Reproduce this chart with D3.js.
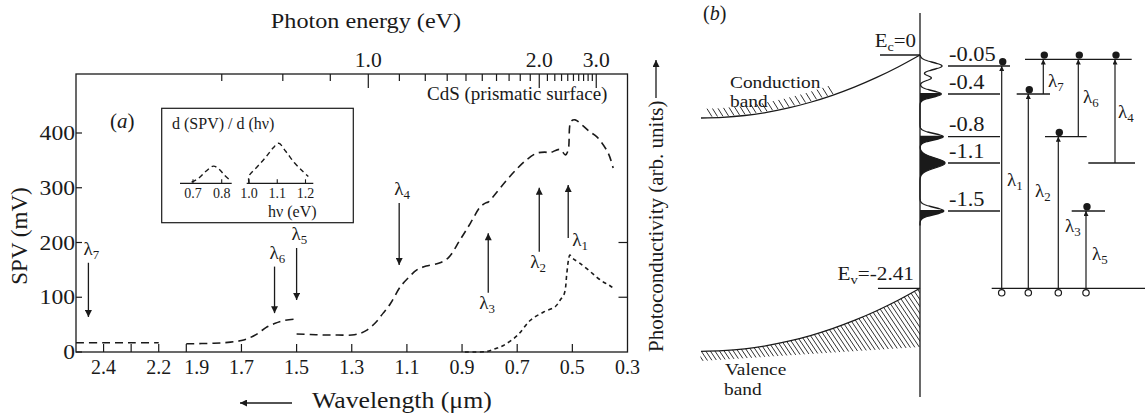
<!DOCTYPE html>
<html><head><meta charset="utf-8">
<script src="https://cdn.jsdelivr.net/npm/d3@7/dist/d3.min.js"></script>
<style>
body{margin:0;background:#fff;}
svg{display:block;}
text{font-family:"Liberation Serif","Times New Roman",Times,serif;fill:#1a1a1a;}
</style></head><body>
<svg id="chart" width="1145" height="417"></svg>
<script>
// ================= DATA =================
// (a) SPV spectrum
const wavelengthBreak = [2.2, 1.9];
const wavelengthTicks = [2.4, 2.3, 2.2, 1.9, 1.7, 1.5, 1.3, 1.1, 0.9, 0.7, 0.5];
const wavelengthLabels = ["2.4", "2.2", "1.9", "1.7", "1.5", "1.3", "1.1", "0.9", "0.7", "0.5", "0.3"];
const energyTicks = [0.7, 0.8, 0.9, 1.0, 1.1, 1.2, 1.3, 1.4, 1.5, 1.6, 1.7, 1.8, 1.9, 2.0,
                     2.1, 2.2, 2.3, 2.4, 2.5, 2.6, 2.7, 2.8, 2.9, 3.0];
const energyLabels = ["1.0", "2.0", "3.0"];
const spvTicks = [0, 100, 200, 300, 400];
const pcTicks = [100, 200];

const spvSeg1 = [[2.5, 17], [2.4, 17], [2.3, 17], [2.2, 17]];
const spvSeg2 = [[1.9, 15], [1.8, 16], [1.74, 18], [1.7, 21], [1.67, 26], [1.64, 34],
                 [1.61, 45], [1.58, 52], [1.55, 57], [1.51, 60]];
const spvSeg3 = [[1.5, 33], [1.45, 32], [1.4, 31], [1.35, 31], [1.3, 31], [1.27, 34],
                 [1.245, 40], [1.215, 53], [1.186, 71], [1.16, 88], [1.124, 119], [1.09, 138],
                 [1.064, 150], [1.03, 157], [0.985, 162], [0.95, 172], [0.907, 205], [0.87, 235],
                 [0.834, 265], [0.815, 272], [0.805, 274], [0.79, 282], [0.738, 314], [0.70, 335],
                 [0.666, 351], [0.63, 363], [0.60, 365], [0.582, 364], [0.545, 370], [0.525, 360],
                 [0.515, 369], [0.505, 421], [0.49, 424], [0.461, 413], [0.436, 402], [0.411, 393],
                 [0.376, 369], [0.364, 356], [0.352, 336]];
const photocond = [[0.89, 0], [0.85, 0], [0.81, 1], [0.78, 6], [0.75, 12], [0.70, 30],
                   [0.652, 58], [0.604, 73], [0.562, 83], [0.544, 95], [0.529, 107],
                   [0.52, 144], [0.514, 168], [0.509, 177], [0.498, 171], [0.475, 163],
                   [0.44, 149], [0.41, 136], [0.385, 127], [0.366, 122], [0.355, 118]];
// arrows: wavelength, start value (mV) -> end value (mV)
const lambdaArrows = [
  {n: "7", wl: 2.455, from: 163, to: 64},
  {n: "6", wl: 1.58, from: 156, to: 71},
  {n: "5", wl: 1.50, from: 190, to: 95},
  {n: "4", wl: 1.128, from: 272, to: 159},
  {n: "3", wl: 0.805, from: 108, to: 217},
  {n: "2", wl: 0.62, from: 183, to: 300},
  {n: "1", wl: 0.515, from: 208, to: 305}
];
// inset d(SPV)/d(hv)
const insetLowTicks = [0.7, 0.8];
const insetHighTicks = [1.0, 1.1, 1.2];
const insetLowCurve = [[0.695, 0.03], [0.72, 0.13], [0.745, 0.3], [0.771, 0.43], [0.79, 0.36],
                       [0.81, 0.2], [0.829, 0.08]];
const insetHighCurve = [[1.0, 0.0], [1.0, 0.18], [1.03, 0.42], [1.06, 0.66], [1.085, 0.88],
                        [1.105, 1.0], [1.13, 0.8], [1.16, 0.52], [1.19, 0.3], [1.21, 0.17]];

// (b) energy diagram (eV)
const Ec = 0, Ev = -2.41;
const levels = [-0.05, -0.4, -0.8, -1.1, -1.5];
const levelLabels = ["-0.05", "-0.4", "-0.8", "-1.1", "-1.5"];
const upperLevel = -0.02;
const dosPeaks = [
  {E: -0.05, a: 0.88}, {E: -0.2, a: 0.45}, {E: -0.4, a: 0.85},
  {E: -0.8, a: 0.93}, {E: -1.1, a: 1.0}, {E: -1.5, a: 0.95}
];
const dosFilled = [-0.4, -0.8, -1.1, -1.5];
const transitions = [
  {n: "1", from: Ev, to: -0.05},
  {n: "2", from: Ev, to: -0.4},
  {n: "3", from: Ev, to: -0.8},
  {n: "5", from: Ev, to: -1.5},
  {n: "7", from: -0.4, to: upperLevel},
  {n: "6", from: -0.8, to: upperLevel},
  {n: "4", from: -1.1, to: upperLevel}
];
const bandBending = [[0, 1], [0.1, 0.81], [0.2, 0.64], [0.3, 0.49], [0.4, 0.36], [0.5, 0.25],
                     [0.6, 0.16], [0.7, 0.09], [0.8, 0.04], [0.9, 0.01], [1, 0]];

// ================= LAYOUT =================
const svg = d3.select("#chart");
const ink = "#1a1a1a";
const defs = svg.append("defs");
function marker(id, w, h) {
  defs.append("marker").attr("id", id).attr("viewBox", "0 0 10 10")
    .attr("refX", 10).attr("refY", 5).attr("markerWidth", w).attr("markerHeight", h)
    .attr("markerUnits", "userSpaceOnUse").attr("orient", "auto")
    .append("path").attr("d", "M0,0L10,5L0,10Z").attr("fill", ink);
}
marker("ah", 9, 7);
marker("ahs", 6, 5);

// horizontally stretched text (the reference type is wide)
function stxt(parent, x, y, str, size, sx, anchor) {
  return parent.append("text")
    .attr("transform", `translate(${x},${y}) scale(${sx},1)`)
    .attr("font-size", size).attr("text-anchor", anchor || "start").text(str);
}
function lambdaText(sel, x, y, n, size) {
  const t = sel.append("text").attr("x", x).attr("y", y).attr("font-size", size);
  t.append("tspan").text("λ");
  t.append("tspan").attr("font-size", size * 0.68).attr("dy", size * 0.22).text(n);
  return t;
}

// ---------- panel (a) ----------
const L = 76, R = 627.5, T = 74, B = 352;
const u = (R - L) / 20;
const x = d3.scaleLinear()
  .domain([2.5, wavelengthBreak[0], wavelengthBreak[1], 0.3])
  .range([L, L + 3 * u, L + 4 * u, R]);
const y = d3.scaleLinear().domain([0, 400]).range([B, 133]);
const hc = 1.24;
const ga = svg.append("g");

ga.append("rect").attr("x", L).attr("y", T).attr("width", R - L).attr("height", B - T)
  .attr("fill", "none").attr("stroke", ink).attr("stroke-width", 1.3);

// bottom ticks (inward)
ga.selectAll(".bt").data(wavelengthTicks).join("line")
  .attr("x1", d => x(d)).attr("x2", d => x(d)).attr("y1", B).attr("y2", B - 8)
  .attr("stroke", ink).attr("stroke-width", 1.2);
ga.selectAll(".bl").data(wavelengthLabels).join("text")
  .attr("transform", d => +d === wavelengthBreak[1]
        ? `translate(${x(+d) - 2},374)` : `translate(${x(+d)},374)`)
  .attr("text-anchor", d => +d === wavelengthBreak[1] ? "start" : "middle")
  .attr("font-size", 20).text(d => d);

// top energy ticks
ga.selectAll(".tt").data(energyTicks).join("line")
  .attr("x1", d => x(hc / d)).attr("x2", d => x(hc / d)).attr("y1", T)
  .attr("y2", d => energyLabels.includes(d.toFixed(1)) ? T + 14 : T + 7)
  .attr("stroke", ink).attr("stroke-width", 1.2);
ga.selectAll(".tl").data(energyLabels).join("text")
  .attr("transform", d => `translate(${x(hc / +d)},67) scale(1.08,1)`).attr("text-anchor", "middle")
  .attr("font-size", 20).text(d => d);

// left ticks
ga.selectAll(".lt").data(spvTicks).join("line")
  .attr("x1", L).attr("x2", L + 6).attr("y1", d => y(d)).attr("y2", d => y(d))
  .attr("stroke", ink).attr("stroke-width", 1.2);
ga.selectAll(".ll").data(spvTicks).join("text")
  .attr("transform", d => `translate(${L - 1},${y(d) + 7}) scale(1.18,1)`).attr("text-anchor", "end")
  .attr("font-size", 20).text(d => d);
// right ticks
ga.selectAll(".rt").data(pcTicks).join("line")
  .attr("x1", R).attr("x2", R - 9).attr("y1", d => y(d)).attr("y2", d => y(d))
  .attr("stroke", ink).attr("stroke-width", 1.2);

// axis titles
stxt(ga, 366, 28, "Photon energy (eV)", 22, 1.1, "middle");
ga.append("text").attr("transform", "translate(27,236) rotate(-90)")
  .attr("text-anchor", "middle").attr("font-size", 23).text("SPV (mV)");
ga.append("text").attr("transform", `translate(663,${B}) rotate(-90)`)
  .attr("text-anchor", "start").attr("font-size", 21).text("Photoconductivity (arb. units)");
ga.append("line").attr("x1", 656).attr("x2", 656).attr("y1", 98).attr("y2", 60)
  .attr("stroke", ink).attr("stroke-width", 1.3).attr("marker-end", "url(#ah)");
stxt(ga, 312, 408, "Wavelength (μm)", 23, 1.12, "start");
ga.append("line").attr("x1", 292).attr("x2", 240).attr("y1", 403).attr("y2", 403)
  .attr("stroke", ink).attr("stroke-width", 1.3).attr("marker-end", "url(#ah)");

const pa = ga.append("text").attr("x", 110).attr("y", 128).attr("font-size", 21);
pa.append("tspan").text("(");
pa.append("tspan").attr("font-style", "italic").text("a");
pa.append("tspan").text(")");
ga.append("text").attr("x", 427).attr("y", 100).attr("font-size", 19).text("CdS (prismatic surface)");

// curves
const line = d3.line().x(d => x(d[0])).y(d => y(d[1])).curve(d3.curveCatmullRom.alpha(0.5));
[spvSeg1, spvSeg2, spvSeg3].forEach(seg => {
  ga.append("path").attr("d", line(seg)).attr("fill", "none").attr("stroke", ink)
    .attr("stroke-width", 1.6).attr("stroke-dasharray", "8,5");
});
ga.append("path").attr("d", line(photocond)).attr("fill", "none").attr("stroke", ink)
  .attr("stroke-width", 1.6).attr("stroke-dasharray", "4,3.5");

// arrows
lambdaArrows.forEach(a => {
  const ax = x(a.wl);
  ga.append("line").attr("x1", ax).attr("x2", ax).attr("y1", y(a.from)).attr("y2", y(a.to))
    .attr("stroke", ink).attr("stroke-width", 1.3).attr("marker-end", "url(#ah)");
  const down = a.to < a.from;
  if (down) lambdaText(ga, ax - 5, y(a.from) - 8, a.n, 19);
  else if (a.n === "1") lambdaText(ga, ax + 4, y(a.from) + 8, a.n, 19);
  else lambdaText(ga, ax - 9, y(a.from) + 16, a.n, 19);
});

// inset
ga.append("rect").attr("x", 161.7).attr("y", 108.3).attr("width", 191.6).attr("height", 114.4)
  .attr("fill", "none").attr("stroke", ink).attr("stroke-width", 1.2);
ga.append("text").attr("x", 172).attr("y", 129).attr("font-size", 16).text("d (SPV) / d (hν)");
const xi1 = d3.scaleLinear().domain([0.7, 0.8]).range([193, 221.7]);
const xi2 = d3.scaleLinear().domain([1.0, 1.2]).range([249, 305.5]);
const yi = d3.scaleLinear().domain([0, 1]).range([183.3, 143.3]);
const iy0 = yi(0);
[[xi1, insetLowTicks, insetLowCurve, 180, 231.7], [xi2, insetHighTicks, insetHighCurve, 246.7, 313.3]]
.forEach(([sx, ticks, curve, a0, a1]) => {
  ga.append("line").attr("x1", a0).attr("x2", a1).attr("y1", iy0).attr("y2", iy0)
    .attr("stroke", ink).attr("stroke-width", 1.2);
  ga.selectAll(null).data(ticks).join("line")
    .attr("x1", d => sx(d)).attr("x2", d => sx(d)).attr("y1", iy0).attr("y2", iy0 - 4)
    .attr("stroke", ink).attr("stroke-width", 1.1);
  ga.selectAll(null).data(ticks).join("text")
    .attr("x", d => sx(d)).attr("y", 198).attr("text-anchor", "middle")
    .attr("font-size", 14).text(d => d.toFixed(1));
  ga.append("path").attr("d", d3.line().x(d => sx(d[0])).y(d => yi(d[1])).curve(d3.curveCatmullRom)(curve))
    .attr("fill", "none").attr("stroke", ink).attr("stroke-width", 1.4).attr("stroke-dasharray", "5,3.5");
});
ga.append("text").attr("x", 268).attr("y", 216.5).attr("font-size", 16).text("hν (eV)");

// ---------- panel (b) ----------
const gb = svg.append("g");
const SX = 920;
const ey = d3.scaleLinear()
  .domain([Ev, -1.5, -1.1, -0.8, -0.4, -0.05, Ec])
  .range([288.3, 211, 163, 136.7, 94, 66, 55]);

const pb = gb.append("text").attr("x", 703).attr("y", 20).attr("font-size", 20);
pb.append("tspan").text("(");
pb.append("tspan").attr("font-style", "italic").text("b");
pb.append("tspan").text(")");

// band bending curves
const xd = d3.scaleLinear().domain([0, 1]).range([SX, 701]);
const bendPx = 63;
const cbPts = bandBending.map(([d, f]) => [xd(d), ey(Ec) + bendPx * (1 - f)]);
const vbPts = bandBending.map(([d, f]) => [xd(d), ey(Ev) + bendPx * (1 - f)]);
const smooth = d3.line().curve(d3.curveMonotoneX);
const cbSorted = cbPts.slice().reverse(), vbSorted = vbPts.slice().reverse();
gb.append("path").attr("d", smooth(cbSorted)).attr("fill", "none").attr("stroke", ink).attr("stroke-width", 1.3);
gb.append("path").attr("d", smooth(vbSorted)).attr("fill", "none").attr("stroke", ink).attr("stroke-width", 1.3);

// CB hatch (above curve)
const cbAt = d3.scaleLinear().domain(cbSorted.map(p => p[0])).range(cbSorted.map(p => p[1]));
d3.range(712, 838, 5.5).forEach(hx => {
  const hy = cbAt(hx) - 1;
  gb.append("line").attr("x1", hx).attr("y1", hy).attr("x2", hx - 5).attr("y2", hy - 8)
    .attr("stroke", ink).attr("stroke-width", 0.9);
});
// VB hatch (below curve)
const vbPoly = vbSorted.concat([[SX, 347], [700, 361]]);
defs.append("clipPath").attr("id", "vbclip").append("path")
  .attr("d", "M" + vbPoly.map(p => p.join(",")).join("L") + "Z");
const hatch = gb.append("g").attr("clip-path", "url(#vbclip)");
d3.range(640, 940, 4.6).forEach(hx => {
  hatch.append("line").attr("x1", hx).attr("y1", 280).attr("x2", hx + 60).attr("y2", 370)
    .attr("stroke", ink).attr("stroke-width", 0.9);
});

// surface line and band edge labels
gb.append("line").attr("x1", SX).attr("x2", SX).attr("y1", 13).attr("y2", 397)
  .attr("stroke", ink).attr("stroke-width", 1.3);
gb.append("line").attr("x1", 880).attr("x2", SX).attr("y1", ey(Ec)).attr("y2", ey(Ec))
  .attr("stroke", ink).attr("stroke-width", 1.3);
gb.append("line").attr("x1", 878).attr("x2", SX).attr("y1", ey(Ev)).attr("y2", ey(Ev))
  .attr("stroke", ink).attr("stroke-width", 1.3);
const ecT = gb.append("text").attr("transform", "translate(916,47) scale(1.1,1)")
  .attr("text-anchor", "end").attr("font-size", 19);
ecT.append("tspan").text("E");
ecT.append("tspan").attr("font-size", 13).attr("dy", 4).text("c");
ecT.append("tspan").attr("dy", -4).text("=" + Ec);
const evT = gb.append("text").attr("transform", "translate(914,280) scale(1.12,1)")
  .attr("text-anchor", "end").attr("font-size", 19);
evT.append("tspan").text("E");
evT.append("tspan").attr("font-size", 13).attr("dy", 4).text("v");
evT.append("tspan").attr("dy", -4).text("=" + Ev);

stxt(gb, 730, 88, "Conduction", 17, 1.14);
stxt(gb, 730, 107, "band", 17, 1.14);
stxt(gb, 725, 375, "Valence", 17, 1.14);
stxt(gb, 724, 395, "band", 17, 1.14);

// DOS curve
const dosX = d3.scaleLinear().domain([0, 1]).range([SX, 945]);
const dosW = {"-0.05": 5, "-0.2": 3.5, "-0.4": 4.5, "-0.8": 4.5, "-1.1": 7, "-1.5": 5};
function dos(py) {
  return d3.sum(dosPeaks, p => p.a * Math.exp(-Math.pow((py - ey(p.E)) / dosW[p.E], 2)));
}
const ys = d3.range(ey(Ec), 226, 0.5);
gb.append("path").attr("d", d3.line()(ys.map(py => [dosX(dos(py)), py])))
  .attr("fill", "none").attr("stroke", ink).attr("stroke-width", 1.3);
dosFilled.forEach(E => {
  const c = ey(E), w = dosW[E];
  const lo = E === -1.1 ? c - 2.2 * w : c - 0.2 * w;
  const seg = d3.range(lo, c + 2.2 * w, 0.5);
  const pts = [[SX, lo]].concat(seg.map(py => [dosX(dos(py)), py])).concat([[SX, c + 2.2 * w]]);
  gb.append("path").attr("d", d3.line()(pts) + "Z").attr("fill", ink).attr("stroke", "none");
});

// level lines and labels
gb.selectAll(".lvl").data(levels).join("line")
  .attr("x1", 948).attr("x2", (d, i) => i === 0 ? 1010 : 1000)
  .attr("y1", d => ey(d)).attr("y2", d => ey(d))
  .attr("stroke", ink).attr("stroke-width", 1.3);
gb.selectAll(".lvlt").data(levelLabels).join("text")
  .attr("transform", d => `translate(949,${ey(+d) - 5.5}) scale(1.12,1)`)
  .attr("font-size", 20).text(d => d);

// transitions
const tx = {"1": 1001.7, "2": 1028.3, "7": 1043.3, "3": 1058.3, "6": 1078.3, "5": 1086, "4": 1115};
const tlab = {"1": [1007, 186], "2": [1035, 197], "3": [1065, 232], "5": [1092, 260],
              "7": [1048, 87], "6": [1083, 103], "4": [1118, 118]};
// short level segments
const shortSegs = [[upperLevel, 1025, 1131.7], [-0.4, 1016.7, 1050], [-0.8, 1045, 1086.7],
                   [-1.1, 1088.3, 1135], [-1.5, 1071.7, 1105], [Ev, 991.7, 1145]];
shortSegs.forEach(([E, a, b]) => {
  gb.append("line").attr("x1", a).attr("x2", b).attr("y1", ey(E)).attr("y2", ey(E))
    .attr("stroke", ink).attr("stroke-width", 1.3);
});
transitions.forEach(t => {
  const X = tx[t.n];
  gb.append("line").attr("x1", X).attr("x2", X).attr("y1", ey(t.from)).attr("y2", ey(t.to))
    .attr("stroke", ink).attr("stroke-width", 1.2).attr("marker-end", "url(#ahs)");
  gb.append("circle").attr("cx", X + 1).attr("cy", ey(t.to) - 4.3).attr("r", 3.7).attr("fill", ink);
  if (t.from === Ev)
    gb.append("circle").attr("cx", X).attr("cy", ey(Ev) + 4.5).attr("r", 3.2)
      .attr("fill", "#fff").attr("stroke", ink).attr("stroke-width", 1.2);
  lambdaText(gb, tlab[t.n][0], tlab[t.n][1], t.n, 19);
});
</script>
</body></html>
